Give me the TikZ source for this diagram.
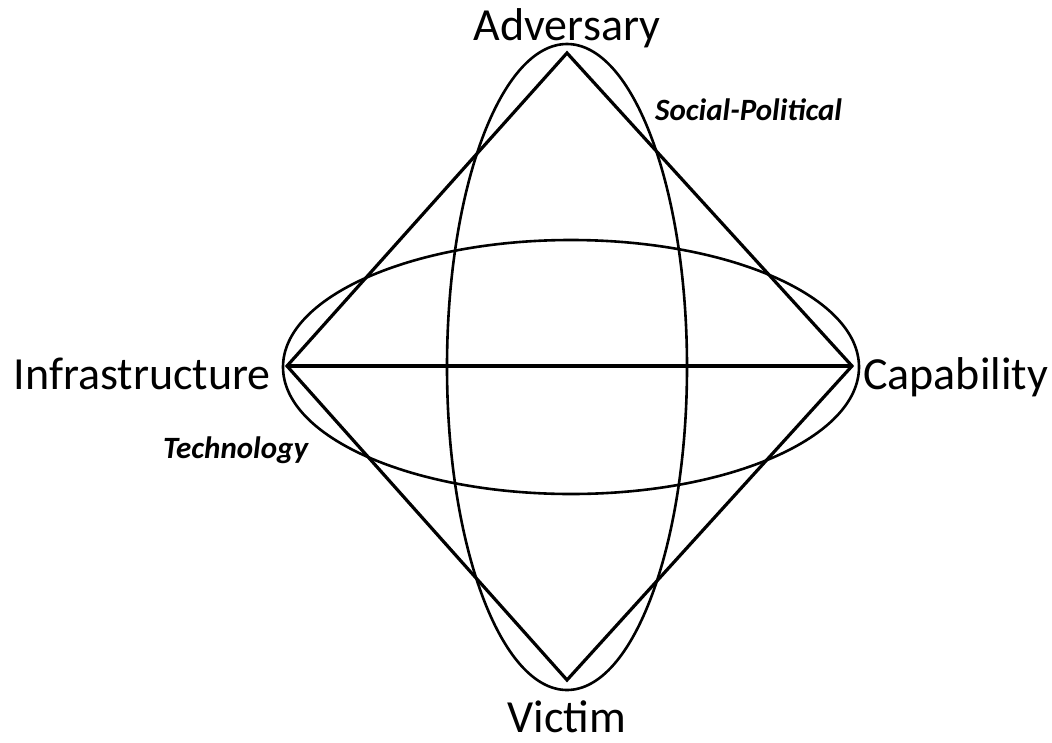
\documentclass[tikz,border=0pt]{standalone}
\usepackage{fontspec}
\setmainfont{Carlito}
\usepackage{tikz}
\usetikzlibrary{positioning,calc}
\tikzset{
  % hörn och etiketter
  vlab/.style={font=\fontsize{46}{52}\selectfont,inner sep=0pt},
  dlab/.style={font=\fontsize{31}{36}\selectfont\bfseries\itshape,inner sep=0pt},
  kant/.style={draw=black,line width=3.2pt,line join=miter},
  ring/.style={draw=black,line width=2.6pt},
}
\begin{document}
\begin{tikzpicture}[x=1pt,y=-1pt]
\useasboundingbox (0,0) rectangle (1052,742);
  \coordinate (adv) at (567,53);
  \coordinate (vic) at (567,680);
  \coordinate (inf) at (287,366);
  \coordinate (cap) at (852,366);
  \draw[ring] (567,367) ellipse [x radius=120,y radius=323];
  \draw[ring] (571,367) ellipse [x radius=288,y radius=127];
  \draw[kant] (adv) -- (cap) -- (vic) -- (inf) -- cycle;
  \draw[kant] (inf) -- (cap);
  \node[vlab,anchor=base] (advlab) at (567,40) {Adversary};
  \node[vlab,anchor=base] (viclab) at (567,732) {Victim};
  \node[vlab,anchor=base east] (inflab) at (271,389) {Infrastructure};
  \node[vlab,anchor=base west] (caplab) at (863,389) {Capability};
  \node[dlab,anchor=base west] (soc) at (655,120) {Social-Political};
  \node[dlab,anchor=base west] (tech) at (163,458) {Technology};
\end{tikzpicture}
\end{document}
